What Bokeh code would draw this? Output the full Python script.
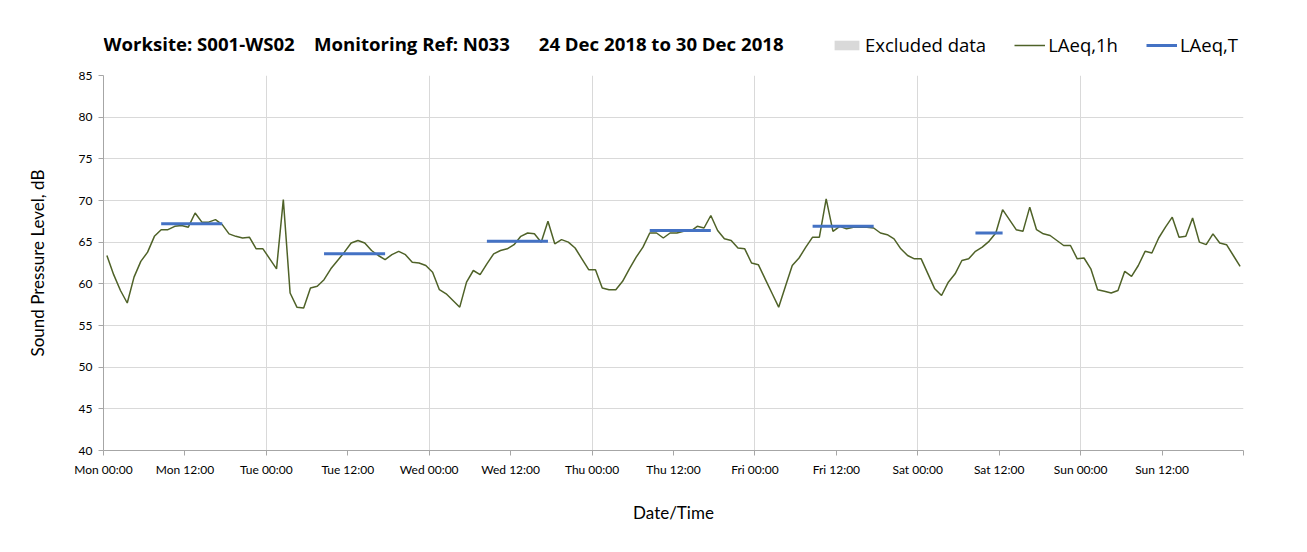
from bokeh.plotting import figure
from bokeh.layouts import column
from bokeh.models import Range1d, FixedTicker, Legend, LegendItem, Label, SingleIntervalTicker
from bokeh.embed import file_html
from bokeh.resources import INLINE

days = ["Mon", "Tue", "Wed", "Thu", "Fri", "Sat", "Sun"]
tick_hours = ["00:00", "12:00"]

# Hourly LAeq,1h values (168 hours, Mon 00:00 .. Sun 23:00)
laeq_1h = [
    63.4, 61.1, 59.2, 57.7, 60.8, 62.7, 63.8, 65.7, 66.5, 66.5, 66.9, 67.0, 66.8, 68.5, 67.4, 67.4, 67.7, 67.1, 66.0, 65.7, 65.5, 65.6, 64.2, 64.2,
    63.0, 61.8, 70.1, 58.9, 57.2, 57.1, 59.5, 59.7, 60.5, 61.8, 62.8, 63.8, 64.9, 65.2, 64.9, 64.0, 63.4, 62.9, 63.5, 63.9, 63.5, 62.6, 62.5, 62.2,
    61.4, 59.3, 58.8, 58.0, 57.2, 60.2, 61.6, 61.1, 62.4, 63.6, 64.0, 64.2, 64.7, 65.7, 66.1, 66.0, 65.0, 67.5, 64.8, 65.3, 65.0, 64.3, 63.0, 61.7,
    61.7, 59.5, 59.3, 59.3, 60.3, 61.8, 63.2, 64.4, 66.1, 66.1, 65.5, 66.1, 66.1, 66.3, 66.3, 66.9, 66.7, 68.2, 66.4, 65.4, 65.2, 64.3, 64.2, 62.5,
    62.3, 60.6, 58.9, 57.2, 59.7, 62.2, 63.1, 64.4, 65.6, 65.6, 70.2, 66.3, 66.9, 66.6, 66.8, 66.8, 66.8, 66.7, 66.1, 65.9, 65.4, 64.2, 63.4, 63.0,
    63.0, 61.2, 59.4, 58.6, 60.2, 61.2, 62.8, 63.0, 63.9, 64.4, 65.1, 66.1, 68.9, 67.7, 66.5, 66.3, 69.2, 66.5, 66.0, 65.8, 65.2, 64.6, 64.6, 63.0,
    63.1, 61.8, 59.3, 59.1, 58.9, 59.2, 61.5, 60.9, 62.2, 63.9, 63.7, 65.5, 66.8, 68.0, 65.6, 65.7, 67.9, 65.0, 64.7, 66.0, 64.9, 64.7, 63.4, 62.1,
]

# LAeq,T period values: start hour index, end hour index, level
laeq_t_start = [8, 32, 56, 80, 104, 128]
laeq_t_end = [17, 41, 65, 89, 113, 132]
laeq_t_value = [67.2, 63.6, 65.1, 66.4, 66.9, 66.1]

NB = "\u00a0"
title_text = ("Worksite: S001-WS02" + NB * 4 + "Monitoring Ref: N033" + NB * 6
              + "24 Dec 2018 to 30 Dec 2018")

FONT = "Lato"
FONT2 = "Open Sans"
W = 1300
HEAD_H = 60
MAIN_H = 488
FRAME_L, FRAME_R = 103, 1243
GREEN = "#4F6228"
BLUE = "#4472C4"
GREY_FILL = "#D9D9D9"

# ---------- header: title + legend (its frame is aligned with the chart frame) ----------
head = figure(width=W, height=HEAD_H, output_backend="svg", toolbar_location=None,
              x_range=Range1d(FRAME_L, FRAME_R), y_range=Range1d(0, HEAD_H),
              x_axis_location=None, y_axis_location=None,
              min_border_left=FRAME_L, min_border_right=W - FRAME_R,
              min_border_top=0, min_border_bottom=0)
head.grid.visible = False
head.outline_line_color = None
# legend proxies, placed outside the visible range
h_ex = head.quad(left=[-20], right=[-10], top=[-20], bottom=[-10], fill_color=GREY_FILL, line_color=None)
h_1h = head.line([-20, -10], [-20, -20], line_color=GREEN, line_width=1.5)
h_t = head.line([-20, -10], [-20, -20], line_color=BLUE, line_width=3)

head.add_layout(Label(x=FRAME_L, y=HEAD_H - 43, text=title_text, text_font=FONT2,
                      text_font_style="bold", text_font_size="18.6px",
                      text_baseline="middle", text_color="#000000"))
legend = Legend(items=[
    LegendItem(label="Excluded data", renderers=[h_ex]),
    LegendItem(label="LAeq,1h", renderers=[h_1h]),
    LegendItem(label="LAeq,T", renderers=[h_t]),
], orientation="horizontal", location=(831 - FRAME_L, 3),
    label_text_font=FONT2, label_text_font_size="18.5px", label_text_color="#000000",
    label_text_baseline="middle",
    glyph_width=31, glyph_height=12, label_standoff=3, spacing=28,
    padding=0, margin=0, border_line_color=None, background_fill_alpha=0)
head.add_layout(legend)

# ---------- main chart ----------
p = figure(width=W, height=MAIN_H, output_backend="svg", toolbar_location=None,
           x_range=Range1d(0, len(laeq_1h)), y_range=Range1d(40, 85),
           min_border_left=FRAME_L, min_border_right=W - FRAME_R,
           min_border_top=75 - HEAD_H, min_border_bottom=HEAD_H + MAIN_H - 450)
p.outline_line_color = None

x_vals = [i + 0.5 for i in range(len(laeq_1h))]
p.line(x_vals, laeq_1h, line_color=GREEN, line_width=1.5)
for s, e, v in zip(laeq_t_start, laeq_t_end, laeq_t_value):
    p.line([s + 0.5, e + 0.5], [v, v], line_color=BLUE, line_width=3)

ticks = list(range(0, len(laeq_1h) + 1, 12))
labels = {}
for k, t in enumerate(ticks):
    labels[t] = f"{days[k // 2]} {tick_hours[k % 2]}" if k < 2 * len(days) else ""
p.xaxis.ticker = FixedTicker(ticks=ticks)
p.xaxis.major_label_overrides = labels
p.yaxis.ticker = SingleIntervalTicker(interval=5)
for ax in (p.xaxis, p.yaxis):
    ax.axis_line_color = "#A6A6A6"
    ax.major_tick_line_color = "#A6A6A6"
    ax.major_tick_in = 0
    ax.major_tick_out = 5
    ax.minor_tick_line_color = None
    ax.major_label_text_font = FONT
    ax.major_label_text_font_size = "12px"
    ax.major_label_text_color = "#000000"
    ax.axis_label_text_font = FONT
    ax.axis_label_text_font_size = "17px"
    ax.axis_label_text_font_style = "normal"
    ax.axis_label_text_color = "#000000"
p.xaxis.axis_label = "Date/Time"
p.yaxis.axis_label = "Sound Pressure Level, dB"
p.xaxis.major_label_standoff = 6
p.xaxis.axis_label_standoff = 22
p.yaxis.major_label_standoff = 6
p.yaxis.axis_label_standoff = 28

p.xgrid.ticker = FixedTicker(ticks=list(range(24, len(laeq_1h), 24)))
p.xgrid.grid_line_color = "#D9D9D9"
p.ygrid.grid_line_color = "#D9D9D9"

layout = column(head, p, spacing=0)
open("out.html", "w").write(file_html(layout, INLINE))
